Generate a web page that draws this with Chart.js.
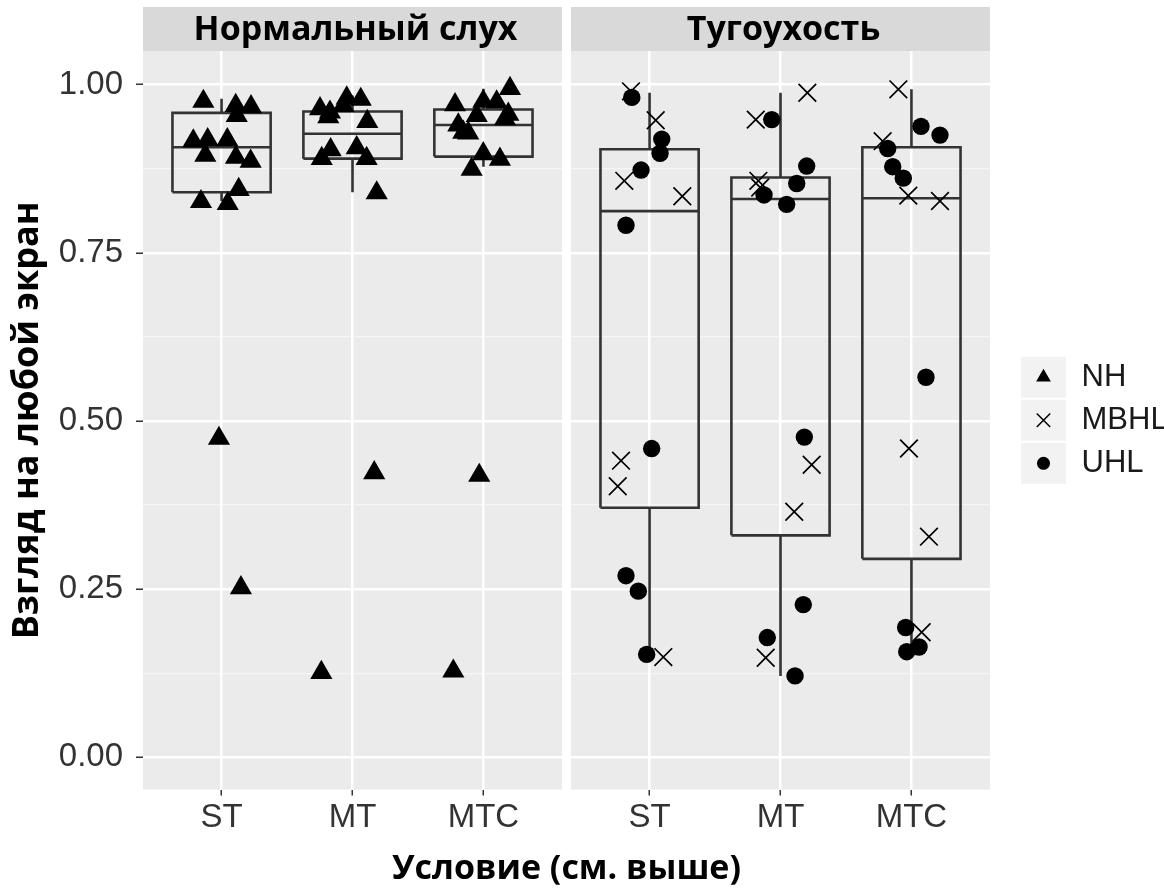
<!DOCTYPE html>
<html lang="ru">
<head>
<meta charset="utf-8">
<title>Взгляд на любой экран</title>
<script src="https://cdn.jsdelivr.net/npm/chart.js@4.4.1/dist/chart.umd.min.js"></script>
<style>
  html, body { margin: 0; padding: 0; background: #ffffff; }
  #wrap { width: 1164px; height: 890px; }
  canvas { display: block; }
</style>
</head>
<body>
<div id="wrap"><canvas id="chart" width="1164" height="890"></canvas></div>
<script>
// ---- categories and labels ----
const categories = ['ST', 'MT', 'MTC'];
const facetLabels = ['Нормальный слух', 'Тугоухость'];
const groupNames = ['NH', 'MBHL', 'UHL'];
const yTickValues = [0, 0.25, 0.5, 0.75, 1];
const yTickLabels = ['0.00', '0.25', '0.50', '0.75', '1.00'];
const yMinorValues = [0.125, 0.375, 0.625, 0.875];

// ---- NH: normal-hearing children (left facet), jittered around condition 1..3 ----
const nhX = [0.861, 1.108, 1.225, 1.116, 0.784, 0.894, 1.044, 0.876, 1.110, 1.222, 1.131, 0.843, 1.047, 0.980, 1.148,
             1.752, 1.828, 1.815, 1.956, 1.930, 2.063, 2.113, 1.765, 1.833, 2.032, 2.108, 2.185, 2.166, 1.762,
             2.783, 3.203, 2.999, 3.101, 2.949, 3.190, 3.165, 2.808, 2.846, 2.884, 2.999, 3.126, 2.910, 2.968, 2.770];
const nhY = [0.975, 0.969, 0.967, 0.954, 0.916, 0.918, 0.918, 0.895, 0.892, 0.886, 0.844, 0.826, 0.823, 0.474, 0.252,
             0.964, 0.959, 0.952, 0.980, 0.969, 0.978, 0.945, 0.890, 0.903, 0.906, 0.890, 0.839, 0.423, 0.126,
             0.970, 0.994, 0.975, 0.974, 0.954, 0.956, 0.949, 0.940, 0.929, 0.928, 0.897, 0.889, 0.874, 0.419, 0.128];

// ---- MBHL: mild bilateral hearing loss (right facet) ----
const mbhlX = [0.858, 1.047, 0.807, 1.250, 0.782, 0.757, 1.105,
               2.205, 1.811, 1.831, 1.845, 2.238, 2.105, 1.887,
               2.900, 2.780, 2.976, 3.218, 2.981, 3.134, 3.078];
const mbhlY = [0.990, 0.947, 0.857, 0.834, 0.441, 0.403, 0.149,
               0.988, 0.948, 0.857, 0.847, 0.435, 0.365, 0.148,
               0.993, 0.916, 0.835, 0.827, 0.459, 0.328, 0.186];

// ---- UHL: unilateral hearing loss (right facet) ----
const uhlX = [0.864, 1.093, 1.080, 0.935, 0.820, 1.016, 0.820, 0.914, 0.978,
              1.933, 2.200, 2.124, 1.874, 2.047, 2.182, 2.174, 1.899, 2.111,
              3.073, 3.218, 2.819, 2.857, 2.938, 3.111, 2.956, 3.058, 2.964];
const uhlY = [0.981, 0.919, 0.898, 0.873, 0.791, 0.459, 0.270, 0.247, 0.153,
              0.948, 0.879, 0.853, 0.836, 0.822, 0.476, 0.227, 0.178, 0.121,
              0.938, 0.925, 0.905, 0.878, 0.861, 0.565, 0.193, 0.164, 0.157];

// ---- box-plot statistics per condition (ST, MT, MTC) ----
const nhLow  = [0.827, 0.840, 0.878];
const nhQ1   = [0.840, 0.890, 0.893];
const nhMed  = [0.907, 0.927, 0.940];
const nhQ3   = [0.958, 0.960, 0.963];
const nhHigh = [0.979, 0.984, 0.994];

const hlLow  = [0.153, 0.121, 0.157];
const hlQ1   = [0.371, 0.330, 0.295];
const hlMed  = [0.812, 0.830, 0.831];
const hlQ3   = [0.904, 0.862, 0.907];
const hlHigh = [0.988, 0.988, 0.993];

// ---- geometry in axis units ----
const PANEL_MIN = 0.4, PANEL_MAX = 3.6;   // discrete axis with 0.6 expansion
const GAP = 0.0344;                        // half of the white gutter between facets
const BOX_HALF = 0.375;
const Y_MIN = -0.048, Y_MAX = 1.050;

const INK = '#000000';
const BOX_INK = '#333333';
const GAPPT = { x: null, y: null };
const TITLE_FONT = '"Open Sans", sans-serif';
const TEXT_FONT = '"Liberation Sans", Arial, sans-serif';

function toPoints(xs, ys) { return xs.map((x, i) => ({ x, y: ys[i] })); }

function boxOutline(q1, q3) {
  const pts = [];
  q1.forEach((lo, i) => {
    const c = i + 1, a = c - BOX_HALF, b = c + BOX_HALF, hi = q3[i];
    pts.push({ x: a, y: lo }, { x: b, y: lo }, { x: b, y: hi }, { x: a, y: hi }, { x: a, y: lo }, GAPPT);
  });
  return pts;
}
function medianBars(med) {
  const pts = [];
  med.forEach((m, i) => { const c = i + 1; pts.push({ x: c - BOX_HALF, y: m }, { x: c + BOX_HALF, y: m }, GAPPT); });
  return pts;
}
function whiskers(low, q1, q3, high) {
  const pts = [];
  low.forEach((lo, i) => {
    const c = i + 1;
    pts.push({ x: c, y: q3[i] }, { x: c, y: high[i] }, GAPPT, { x: c, y: lo }, { x: c, y: q1[i] }, GAPPT);
  });
  return pts;
}
function lineSet(label, data, xAxisID) {
  return {
    type: 'line', label, data, xAxisID, yAxisID: 'y',
    borderColor: BOX_INK, borderWidth: 2.6, pointRadius: 0, pointHoverRadius: 0,
    fill: false, tension: 0, spanGaps: false, borderJoinStyle: 'miter'
  };
}

// legend symbol shapes (drawn into grey key boxes)
const legendShapes = [
  { pointStyle: 'triangle', radius: 8.5, borderWidth: 0 },
  { pointStyle: 'crossRot', radius: 9.5, borderWidth: 1.5 },
  { pointStyle: 'circle', radius: 6.5, borderWidth: 0 }
];

const datasets = [
  { type: 'scatter', label: groupNames[0], data: toPoints(nhX, nhY), xAxisID: 'x1', yAxisID: 'y',
    pointStyle: 'triangle', pointRadius: 12.8, pointHoverRadius: 12.8, backgroundColor: INK, borderColor: INK, borderWidth: 0 },
  { type: 'scatter', label: groupNames[1], data: toPoints(mbhlX, mbhlY), xAxisID: 'x2', yAxisID: 'y',
    pointStyle: 'crossRot', pointRadius: 12.5, pointHoverRadius: 12.5, backgroundColor: INK, borderColor: INK, borderWidth: 1.7 },
  { type: 'scatter', label: groupNames[2], data: toPoints(uhlX, uhlY), xAxisID: 'x2', yAxisID: 'y',
    pointStyle: 'circle', pointRadius: 8.7, pointHoverRadius: 8.7, backgroundColor: INK, borderColor: INK, borderWidth: 0 },
  lineSet('nh-box', boxOutline(nhQ1, nhQ3), 'x1'),
  lineSet('nh-median', medianBars(nhMed), 'x1'),
  lineSet('nh-whisker', whiskers(nhLow, nhQ1, nhQ3, nhHigh), 'x1'),
  lineSet('hl-box', boxOutline(hlQ1, hlQ3), 'x2'),
  lineSet('hl-median', medianBars(hlMed), 'x2'),
  lineSet('hl-whisker', whiskers(hlLow, hlQ1, hlQ3, hlHigh), 'x2')
];

// facet backgrounds, strip headers and legend key symbols
const facetPlugin = {
  id: 'facetPanels',
  beforeDraw(chart) {
    const { ctx, chartArea } = chart;
    ['x1', 'x2'].forEach((id, k) => {
      const s = chart.scales[id];
      const l = s.getPixelForValue(PANEL_MIN), r = s.getPixelForValue(PANEL_MAX);
      ctx.save();
      ctx.fillStyle = '#ebebeb';
      ctx.fillRect(l, chartArea.top, r - l, chartArea.bottom - chartArea.top);
      ctx.fillStyle = '#d9d9d9';
      ctx.fillRect(l, 7, r - l, chartArea.top - 7);
      ctx.fillStyle = '#000000';
      ctx.font = 'bold 34px ' + TITLE_FONT;
      ctx.textAlign = 'center';
      ctx.textBaseline = 'middle';
      ctx.fillText(facetLabels[k], (l + r) / 2 + 3, (7 + chartArea.top) / 2 + 1);
      ctx.restore();
    });
  },
  afterDraw(chart) {
    const boxes = chart.legend && chart.legend.legendHitBoxes;
    if (!boxes) return;
    const ctx = chart.ctx;
    const { boxWidth, boxHeight } = chart.options.plugins.legend.labels;
    boxes.forEach((hb, i) => {
      const sh = legendShapes[i];
      if (!sh) return;
      ctx.save();
      ctx.fillStyle = INK;
      ctx.strokeStyle = INK;
      ctx.lineWidth = sh.borderWidth;
      Chart.helpers.drawPoint(ctx, { pointStyle: sh.pointStyle, radius: sh.radius, rotation: 0, borderWidth: sh.borderWidth },
        hb.left + boxWidth / 2, hb.top + boxHeight / 2);
      ctx.restore();
    });
  }
};

const xCommon = (min, max) => ({
  type: 'linear', position: 'bottom', stack: 'facets', stackWeight: 1,
  min, max,
  afterBuildTicks: (axis) => { axis.ticks = categories.map((_, i) => ({ value: i + 1 })); },
  ticks: {
    autoSkip: false, maxRotation: 0, padding: 3,
    color: '#333333', font: { size: 33, family: TEXT_FONT },
    callback: (v) => categories[Math.round(v) - 1] || ''
  },
  grid: { color: '#ffffff', lineWidth: 2.5, drawTicks: true, tickLength: 6, tickColor: '#333333', tickWidth: 1.5 },
  border: { display: false }
});

new Chart(document.getElementById('chart'), {
  data: { datasets },
  plugins: [facetPlugin],
  options: {
    responsive: false,
    animation: false,
    events: [],
    layout: { padding: { left: 0, right: 0, top: 51, bottom: 0 } },
    scales: {
      x1: xCommon(PANEL_MIN, PANEL_MAX + GAP),
      x2: xCommon(PANEL_MIN - GAP, PANEL_MAX),
      y: {
        type: 'linear', position: 'left', min: Y_MIN, max: Y_MAX,
        afterBuildTicks: (axis) => {
          axis.ticks = yTickValues.concat(yMinorValues).sort((a, b) => a - b).map(v => ({ value: v }));
        },
        afterFit: (scale) => { scale.width = 143; },
        ticks: {
          autoSkip: false, padding: 13, color: '#333333',
          font: { size: 33, family: TEXT_FONT },
          callback: (v) => { const i = yTickValues.indexOf(v); return i >= 0 ? yTickLabels[i] : ''; }
        },
        grid: {
          color: (c) => (c.tick && yMinorValues.includes(c.tick.value)) ? 'rgba(255,255,255,0.55)' : '#ffffff',
          lineWidth: (c) => (c.tick && yMinorValues.includes(c.tick.value)) ? 1.2 : 2.5,
          tickColor: (c) => (c.tick && yMinorValues.includes(c.tick.value)) ? 'rgba(0,0,0,0)' : '#333333',
          tickLength: 7, tickWidth: 1.5, drawTicks: true
        },
        border: { display: false },
        title: {
          display: true, text: 'Взгляд на любой экран', color: '#000000',
          font: { size: 36, weight: 'bold', family: TITLE_FONT },
          padding: { top: 6, bottom: 0 }
        }
      },
      yPad: {
        type: 'linear', position: 'right', display: true,
        afterFit: (scale) => { scale.width = 29; },
        ticks: { display: false },
        grid: { display: false, drawTicks: false },
        border: { display: false }
      }
    },
    plugins: {
      tooltip: { enabled: false },
      title: {
        display: true, position: 'bottom', fullSize: false,
        text: 'Условие (см. выше)', color: '#000000',
        font: { size: 34, weight: 'bold', family: TITLE_FONT },
        padding: { top: 8, bottom: 0 }
      },
      legend: {
        display: true, position: 'right', align: 'center', fullSize: false, maxWidth: 145,
        labels: {
          boxWidth: 45, boxHeight: 41, padding: 2, color: '#1a1a1a',
          font: { size: 31, family: TEXT_FONT },
          generateLabels: () => groupNames.map((name, i) => ({
            text: name, datasetIndex: i, hidden: false,
            fillStyle: '#f2f2f2', strokeStyle: 'rgba(0,0,0,0)', lineWidth: 0, fontColor: '#1a1a1a'
          }))
        }
      }
    }
  }
});
</script>
</body>
</html>
